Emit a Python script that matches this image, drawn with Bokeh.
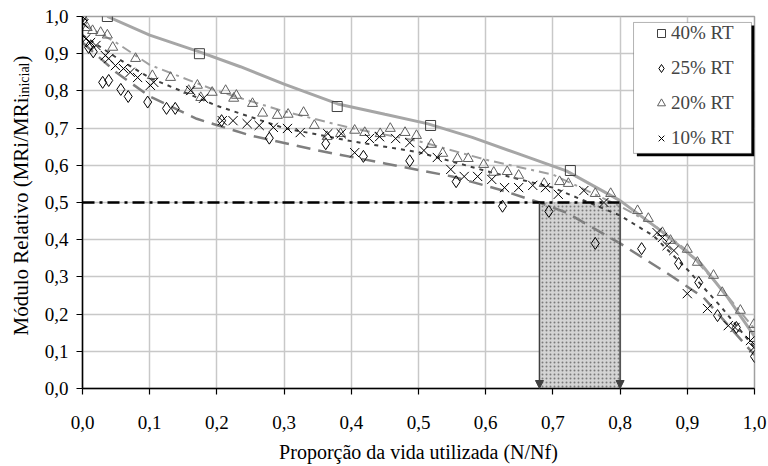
import math
from bokeh.plotting import figure
from bokeh.layouts import row
from bokeh.core.properties import value
from bokeh.models import (FixedTicker, Legend, LegendItem, BoxAnnotation,
                          Arrow, NormalHead, Range1d)
from bokeh.embed import file_html
from bokeh.resources import INLINE

# ---------------- data ----------------
ticks = [0.0, 0.1, 0.2, 0.3, 0.4, 0.5, 0.6, 0.7, 0.8, 0.9, 1.0]
tick_labels = ["0,0", "0,1", "0,2", "0,3", "0,4", "0,5", "0,6", "0,7", "0,8", "0,9", "1,0"]

# 40% RT (squares)
x40 = [0.037, 0.174, 0.379, 0.518, 0.726, 1.0]
y40 = [1.0, 0.90, 0.758, 0.707, 0.586, 0.14]

# 25% RT (diamonds)
x25 = [0.0, 0.009, 0.016, 0.030, 0.039, 0.057, 0.068, 0.097, 0.125, 0.138, 0.207,
       0.278, 0.362, 0.418, 0.487, 0.556, 0.625, 0.694, 0.763, 0.832, 0.887, 0.917,
       0.945, 0.973, 1.0]
y25 = [1.0, 0.917, 0.905, 0.823, 0.828, 0.804, 0.785, 0.770, 0.753, 0.753, 0.720,
       0.673, 0.658, 0.624, 0.612, 0.556, 0.490, 0.476, 0.390, 0.376, 0.336, 0.285,
       0.196, 0.164, 0.086]

# 20% RT (triangles)
x20 = [0.0, 0.007, 0.015, 0.027, 0.037, 0.045, 0.079, 0.104, 0.131, 0.158, 0.171,
       0.176, 0.193, 0.213, 0.225, 0.229, 0.253, 0.268, 0.290, 0.306, 0.329, 0.345,
       0.364, 0.384, 0.405, 0.420, 0.443, 0.458, 0.480, 0.497, 0.519, 0.536, 0.558,
       0.574, 0.597, 0.612, 0.632, 0.649, 0.687, 0.710, 0.723, 0.763, 0.786, 0.826,
       0.842, 0.863, 0.875, 0.900, 0.915, 0.939, 0.952, 0.979, 0.999]
y20 = [1.0, 0.970, 0.962, 0.957, 0.950, 0.917, 0.887, 0.841, 0.836, 0.801, 0.815,
       0.782, 0.796, 0.801, 0.780, 0.788, 0.766, 0.740, 0.734, 0.737, 0.742, 0.707,
       0.677, 0.685, 0.694, 0.688, 0.685, 0.699, 0.688, 0.680, 0.656, 0.632, 0.618,
       0.618, 0.602, 0.581, 0.583, 0.573, 0.551, 0.556, 0.551, 0.524, 0.524, 0.478,
       0.457, 0.419, 0.398, 0.374, 0.339, 0.304, 0.258, 0.210, 0.172]

# 10% RT (crosses)
x10 = [0.0, 0.002, 0.005, 0.012, 0.020, 0.034, 0.039, 0.049, 0.061, 0.071, 0.082,
       0.101, 0.106, 0.161, 0.180, 0.208, 0.224, 0.245, 0.263, 0.284, 0.305, 0.324,
       0.365, 0.385, 0.405, 0.427, 0.442, 0.466, 0.487, 0.508, 0.528, 0.548, 0.568,
       0.588, 0.609, 0.628, 0.649, 0.670, 0.689, 0.708, 0.746, 0.776, 0.855, 0.863,
       0.870, 0.880, 0.900, 0.930, 0.961, 0.971, 0.994, 0.999]
y10 = [1.0, 0.980, 0.940, 0.930, 0.922, 0.895, 0.887, 0.868, 0.860, 0.850, 0.836,
       0.815, 0.823, 0.801, 0.780, 0.720, 0.720, 0.712, 0.707, 0.702, 0.699, 0.688,
       0.685, 0.685, 0.634, 0.672, 0.677, 0.672, 0.661, 0.640, 0.621, 0.589, 0.570,
       0.570, 0.562, 0.540, 0.540, 0.546, 0.540, 0.522, 0.532, 0.500, 0.419, 0.406,
       0.384, 0.371, 0.255, 0.215, 0.169, 0.164, 0.129, 0.110]

# trend lines
fx40 = [0.037, 0.10, 0.174, 0.235, 0.30, 0.38, 0.45, 0.513, 0.58, 0.647, 0.72, 0.80, 0.86, 0.92, 0.96, 1.0]
fy40 = [1.0, 0.95, 0.905, 0.865, 0.818, 0.765, 0.737, 0.712, 0.675, 0.632, 0.585, 0.505, 0.425, 0.336, 0.245, 0.14]

fx25 = [0.0, 0.05, 0.10, 0.17, 0.25, 0.35, 0.45, 0.55, 0.62, 0.68, 0.72, 0.80, 0.87, 0.924, 1.0]
fy25 = [0.93, 0.85, 0.785, 0.725, 0.68, 0.64, 0.605, 0.57, 0.535, 0.50, 0.473, 0.39, 0.31, 0.245, 0.09]

fx20 = [0.0, 0.05, 0.10, 0.20, 0.30, 0.40, 0.50, 0.60, 0.70, 0.80, 0.85, 0.90, 0.95, 1.0]
fy20 = [0.98, 0.93, 0.87, 0.80, 0.745, 0.70, 0.665, 0.615, 0.575, 0.49, 0.44, 0.37, 0.27, 0.16]

fx10 = [0.0, 0.05, 0.10, 0.20, 0.30, 0.40, 0.50, 0.60, 0.70, 0.80, 0.85, 0.90, 0.95, 1.0]
fy10 = [0.95, 0.89, 0.835, 0.76, 0.70, 0.665, 0.635, 0.585, 0.54, 0.465, 0.41, 0.32, 0.22, 0.11]

limit_y = 0.5
zone = [0.68, 0.80]

labels = ["40% RT", "25% RT", "20% RT", "10% RT"]
y_title = ["Módulo Relativo (MRi/MRi", "inicial", ")"]
x_title = "Proporção da vida utilizada (N/Nf)"

FONT = "Liberation Serif"
W, H = 768, 466
TITLE_W = 40
TOP, BOTTOM = 16, 78

p = figure(width=W - TITLE_W, height=H, output_backend="svg", toolbar_location=None,
           x_range=Range1d(0, 1), y_range=Range1d(0, 1),
           min_border_left=82 - TITLE_W, min_border_right=14,
           min_border_top=TOP, min_border_bottom=BOTTOM)
p.background_fill_color = "white"
p.border_fill_color = "white"
p.outline_line_color = "#a0a0a0"
p.outline_line_width = 1.5

for ax in (p.xaxis[0], p.yaxis[0]):
    ax.ticker = FixedTicker(ticks=ticks)
    ax.major_label_overrides = {t: l for t, l in zip(ticks, tick_labels)}
    ax.minor_tick_line_color = None
    ax.major_tick_in = 0
    ax.major_tick_out = 6
    ax.major_tick_line_color = "black"
    ax.major_tick_line_width = 1.2
    ax.axis_line_color = "black"
    ax.axis_line_width = 1.5
    ax.major_label_text_font = FONT
    ax.major_label_text_font_size = "19px"
    ax.major_label_text_color = "black"

p.yaxis.major_label_standoff = 8
p.xaxis.major_label_standoff = 21
p.xaxis.axis_label = x_title
p.xaxis.axis_label_text_font = FONT
p.xaxis.axis_label_text_font_size = "20px"
p.xaxis.axis_label_text_font_style = "normal"
p.xaxis.axis_label_text_color = "black"
p.xaxis.axis_label_standoff = 9

p.xgrid.ticker = FixedTicker(ticks=ticks)
p.ygrid.ticker = FixedTicker(ticks=ticks)
p.grid.grid_line_color = "#c8c8c8"
p.grid.grid_line_width = 1.5

# shaded zone
p.quad(left=[zone[0]], right=[zone[1]], bottom=[0], top=[limit_y],
       fill_color="#d4d4d4", hatch_pattern="dot", hatch_color="#7a7a7a",
       hatch_scale=4, hatch_weight=1, line_color=None)
for zx in zone:
    p.add_layout(Arrow(end=NormalHead(size=8, fill_color="#404040", line_color="#404040"),
                       x_start=zx, y_start=limit_y, x_end=zx, y_end=0.0,
                       line_color="#404040", line_width=1.5))

# trend lines
p.line(fx25, fy25, line_color="#7f7f7f", line_width=2.5, line_dash="14 8")
p.line(fx20, fy20, line_color="#a0a0a0", line_width=2, line_dash="10 5 3 5")
p.line(fx10, fy10, line_color="#404040", line_width=2, line_dash="4 5")
p.line(fx40, fy40, line_color="#a6a6a6", line_width=3)

# 0.5 reference line
p.line([0, zone[1]], [limit_y, limit_y], line_color="black", line_width=2.5, line_dash="12 5 3 5")

# markers
r40 = p.scatter(x40, y40, marker="square", size=10, fill_color=None, line_color="#404040", line_width=1)
r25 = p.scatter(x25, y25, marker="diamond", size=12, fill_color=None, line_color="black", line_width=1)
r20 = p.scatter(x20, y20, marker="triangle", size=10, fill_color=None, line_color="#606060", line_width=1)
r10 = p.scatter(x10, y10, marker="x", size=13, line_color="black", line_width=1)

# legend box with shadow
p.add_layout(BoxAnnotation(left=0.825, right=1.0, top=0.976, bottom=0.624,
                           fill_color="black", fill_alpha=1, line_color=None))
p.add_layout(BoxAnnotation(left=0.82, right=0.9955, top=0.984, bottom=0.632,
                           fill_color="white", fill_alpha=1, line_color="black", line_width=1))

legend = Legend(items=[LegendItem(label=l, renderers=[r]) for l, r in zip(labels, [r40, r25, r20, r10])],
                location=(569, 239), orientation="vertical",
                glyph_width=20, glyph_height=20, label_height=20, spacing=13,
                padding=0, margin=0, label_standoff=0,
                label_text_font=FONT, label_text_font_size="19px",
                border_line_alpha=0, background_fill_alpha=0)
p.add_layout(legend)

# ---- narrow side figure holding the rotated y-axis title ----
# its frame is aligned with the main frame (rows 16..388 px); range set so data y = H - pixel row
t = figure(width=TITLE_W, height=H, output_backend="svg", toolbar_location=None,
           x_range=Range1d(0, TITLE_W), y_range=Range1d(BOTTOM, H - TOP),
           x_axis_location=None, y_axis_location=None,
           min_border_left=0, min_border_right=0,
           min_border_top=TOP, min_border_bottom=BOTTOM, outline_line_color=None)
t.grid.visible = False
t.background_fill_color = "white"
t.border_fill_color = "white"
t.text(x=[20], y=[H - 335], text=[y_title[0]], angle=math.pi / 2,
       text_font=value(FONT), text_font_size="21px", text_align="left",
       text_baseline="middle", text_color="black")
t.text(x=[24], y=[H - 97], text=[y_title[1]], angle=math.pi / 2,
       text_font=value(FONT), text_font_size="14px", text_align="left",
       text_baseline="middle", text_color="black")
t.text(x=[20], y=[H - 62], text=[y_title[2]], angle=math.pi / 2,
       text_font=value(FONT), text_font_size="21px", text_align="left",
       text_baseline="middle", text_color="black")

layout = row(t, p, spacing=0)
open("out.html", "w").write(file_html(layout, INLINE))
